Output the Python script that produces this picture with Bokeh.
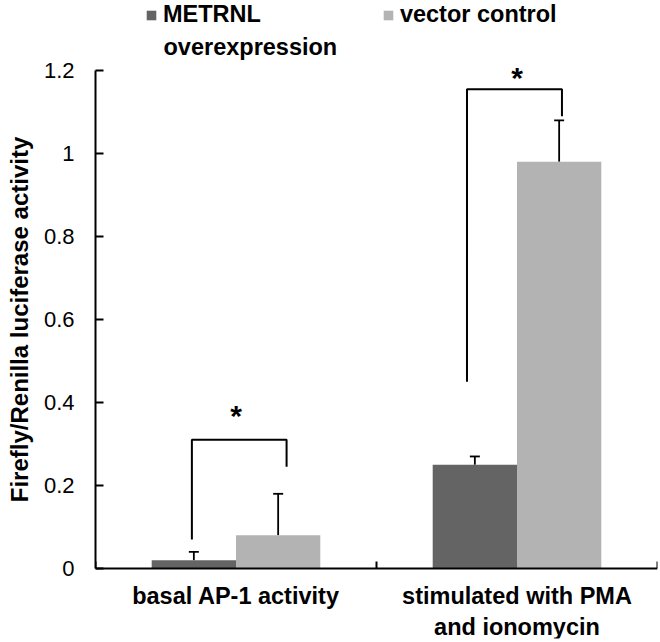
from bokeh.plotting import figure
from bokeh.models import (ColumnDataSource, FixedTicker, Whisker, TeeHead, Legend,
                          LegendItem, Range1d, NumeralTickFormatter, Label)
from bokeh.core.properties import value
from bokeh.embed import file_html
from bokeh.resources import INLINE

# ---- data ----
categories = ["basal AP-1 activity", "stimulated with PMA\nand ionomycin"]
series_names = ["METRNL", "vector control"]
series_name_second_line = "overexpression"
metrnl_values = [0.02, 0.25]
metrnl_errors = [0.02, 0.02]
vector_values = [0.08, 0.98]
vector_errors = [0.10, 0.10]
# significance brackets per category
bracket_left_dx = [-0.157, -0.178]
bracket_right_dx = [0.18, 0.16]
bracket_left_bottom = [0.07, 0.45]
bracket_top = [0.31, 1.155]
bracket_right_bottom = [0.245, 1.09]
star_y = [0.38, 1.195]
star_labels = ["*", "*"]
y_ticks = [0, 0.2, 0.4, 0.6, 0.8, 1.0, 1.2]

# ---- styles ----
FONT = "Liberation Sans"
DARK = "#646464"
LIGHT = "#b3b3b3"
BAR_W = 0.30
OFF = 0.15
PX = 415.0          # pixels per y unit
FRAME_H = 638

centers = [i + 0.5 for i in range(len(categories))]
boundaries = list(range(len(categories) + 1))

p = figure(width=660, height=642, output_backend="svg", toolbar_location=None,
           x_range=Range1d(0, len(categories)),
           y_range=Range1d(-70 / PX, 568 / PX),
           min_border_left=95, min_border_right=3, min_border_top=0, min_border_bottom=4)
p.outline_line_color = None
p.grid.visible = False
p.background_fill_color = "white"

src_m = ColumnDataSource(dict(x=[c - OFF for c in centers], top=metrnl_values,
                              upper=[v + e for v, e in zip(metrnl_values, metrnl_errors)]))
src_v = ColumnDataSource(dict(x=[c + OFF for c in centers], top=vector_values,
                              upper=[v + e for v, e in zip(vector_values, vector_errors)]))

r_m = p.vbar(x="x", top="top", width=BAR_W, source=src_m, fill_color=DARK, line_color=None)
r_v = p.vbar(x="x", top="top", width=BAR_W, source=src_v, fill_color=LIGHT, line_color=None)

for src in (src_m, src_v):
    p.add_layout(Whisker(base="x", lower="top", upper="upper", source=src, line_width=1.8,
                         line_color="black", lower_head=None,
                         upper_head=TeeHead(size=10, line_width=1.8, line_color="black")))

# significance brackets
bx = [[c + dl, c + dl, c + dr, c + dr] for c, dl, dr in zip(centers, bracket_left_dx, bracket_right_dx)]
by = [[lb, t, t, rb] for lb, t, rb in zip(bracket_left_bottom, bracket_top, bracket_right_bottom)]
p.multi_line(xs=bx, ys=by, line_color="black", line_width=2)
p.text(x=centers, y=star_y, text=star_labels, text_font=value(FONT), text_font_style="bold",
       text_font_size="30px", text_align="center", text_baseline="alphabetic", y_offset=5,
       text_color="black")

# axes
xa = p.xaxis[0]
xa.fixed_location = 0
xa.ticker = FixedTicker(ticks=centers, minor_ticks=boundaries)
xa.major_label_overrides = {c: lab for c, lab in zip(centers, categories)}
xa.major_tick_line_color = None
xa.major_tick_in = 0
xa.major_tick_out = 0
xa.minor_tick_in = 7
xa.minor_tick_out = 0
xa.minor_tick_line_width = 2
xa.axis_line_width = 2
xa.axis_line_color = "black"
xa.major_label_text_font = FONT
xa.major_label_text_font_style = "bold"
xa.major_label_text_font_size = "23.5px"
xa.major_label_text_color = "black"
xa.major_label_text_line_height = 1.2
xa.major_label_standoff = 14

ya = p.yaxis[0]
ya.ticker = FixedTicker(ticks=y_ticks)
ya.bounds = (0, 1.2)
ya.formatter = NumeralTickFormatter(format="0.[0]")
ya.minor_tick_line_color = None
ya.major_tick_in = 8
ya.major_tick_out = 0
ya.major_tick_line_width = 2
ya.axis_line_width = 2
ya.axis_line_color = "black"
ya.major_label_text_font = FONT
ya.major_label_text_font_size = "22px"
ya.major_label_text_color = "black"
ya.major_label_standoff = 21
ya.axis_label = "Firefly/Renilla luciferase activity"
ya.axis_label_text_font = FONT
ya.axis_label_text_font_style = "bold"
ya.axis_label_text_font_size = "24px"
ya.axis_label_text_color = "black"
ya.axis_label_standoff = 8

legend = Legend(items=[LegendItem(label=series_names[0], renderers=[r_m]),
                       LegendItem(label=series_names[1], renderers=[r_v])],
                orientation="horizontal", location=(50, FRAME_H - 28), margin=0, padding=0,
                spacing=121, label_standoff=6, glyph_width=12, glyph_height=12,
                border_line_color=None, background_fill_alpha=0,
                label_text_font=FONT, label_text_font_style="bold",
                label_text_font_size="23.5px", label_text_color="black",
                label_text_line_height=1.0)
p.add_layout(legend)
p.add_layout(Label(x=68, y=FRAME_H - 46, x_units="screen", y_units="screen",
                   text=series_name_second_line, text_font=FONT, text_font_style="bold",
                   text_font_size="23.5px", text_color="black", text_baseline="alphabetic"))

open("out.html", "w").write(file_html(p, INLINE))
